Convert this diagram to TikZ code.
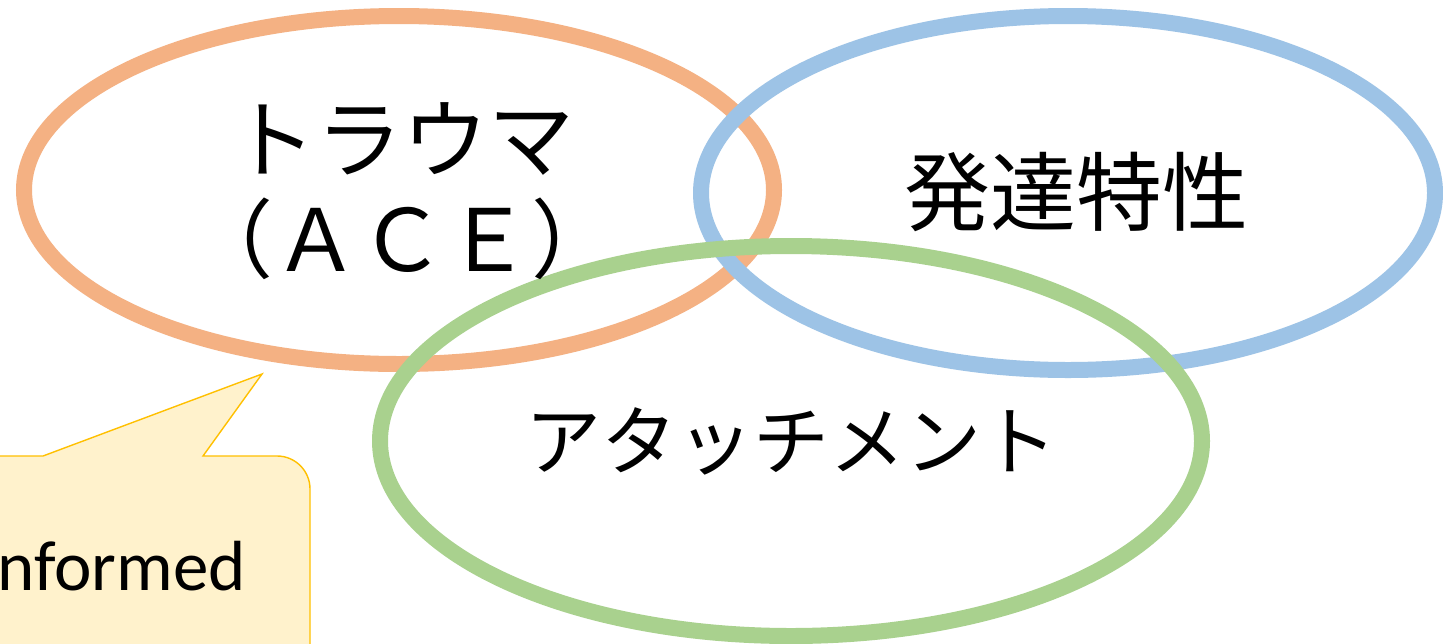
\documentclass[tikz,border=0pt]{standalone}
\usepackage{fontspec}
\newfontfamily\cjk{Noto Sans CJK JP}
\newfontfamily\calib{Carlito}
\definecolor{vorange}{HTML}{F4B183}
\definecolor{vblue}{HTML}{9DC3E6}
\definecolor{vgreen}{HTML}{A9D18E}
\definecolor{callfill}{HTML}{FFF2CC}
\definecolor{calldraw}{HTML}{FFC000}
\tikzset{
  ring/.style={line width=8pt},
  jplabel/.style={inner sep=0pt, align=center, text=black},
  bubble/.style={fill=callfill, draw=calldraw, line width=0.7pt, line join=miter}
}
\begin{document}
\begin{tikzpicture}[x=0.5pt,y=-0.5pt]
\useasboundingbox (0,0) rectangle (1443,643);
\clip (0,0) rectangle (1443,643);
\fill[white] (0,0) rectangle (1443,643);
% callout
\coordinate (tip) at (262,374);
\draw[bubble] (-20,456) -- (43,456) -- (tip) -- (203,456) -- (277,456)
  arc[start angle=90, end angle=0, radius=16.5pt] -- (310,700) -- (-20,700) -- cycle;
\node[anchor=base west, inner sep=0pt, font=\calib\fontsize{35.5}{42}\selectfont] (informed) at (-3,590) {nformed};
% ellipses
\draw[ring, vorange] (399,190) ellipse [x radius=375, y radius=174];
\draw[ring, vblue] (1068,193) ellipse [x radius=367, y radius=177];
\draw[ring, vgreen] (791,441) ellipse [x radius=411, y radius=195];
% labels
\node[jplabel, font=\cjk\fontsize{43}{50}\selectfont] (trauma) at (402,191) {トラウマ\\（ＡＣＥ）};
\node[jplabel, font=\cjk\fontsize{43}{50}\selectfont] (hattatsu) at (1076,192) {発達特性};
\node[jplabel, font=\cjk\fontsize{38}{46}\selectfont] (attach) at (791,441) {アタッチメント};
\end{tikzpicture}
\end{document}
